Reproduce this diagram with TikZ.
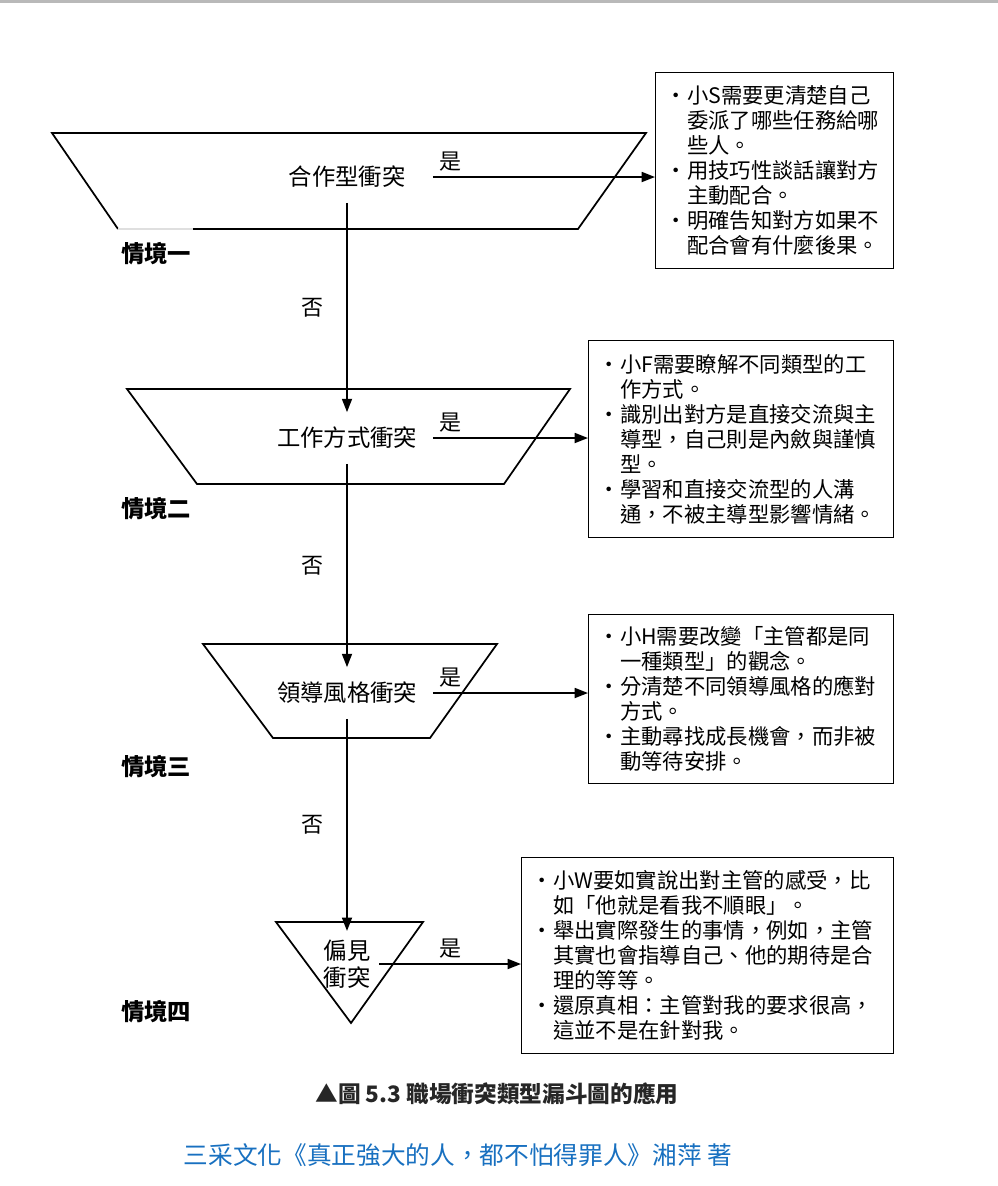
\documentclass[tikz,border=0pt]{standalone}
\usepackage{fontspec}
\setmainfont{Noto Sans CJK TC}
\usetikzlibrary{arrows.meta,positioning}
\definecolor{pubblue}{RGB}{24,112,192}
\newcommand{\bul}{\makebox[1em][l]{・}}
\newcommand{\cnt}{\hspace*{1em}}

\begin{document}
\begin{tikzpicture}[x=0.75pt,y=-0.75pt,line width=1.3pt,
  >={Triangle[length=10pt,width=7.5pt]},
  conflict/.style={minimum width=127.5pt,minimum height=37.5pt,inner sep=0pt,
    font=\fontsize{17.5}{20}\selectfont},
  scenario/.style={font=\fontsize{17.5}{20}\selectfont\bfseries},
  yeslabel/.style={font=\fontsize{16.5}{20}\selectfont,inner sep=4pt},
  nolabel/.style={midway,left=14pt,font=\fontsize{16.5}{20}\selectfont},
  advice/.style={draw,line width=1pt,anchor=north west,align=left,inner xsep=7.5pt,
    inner ysep=0pt,font=\fontsize{16}{18.75}\selectfont}]
  \useasboundingbox (0,0) rectangle (998,1186);
  \fill[gray!55] (0,0) rectangle (998,2.5);

  \draw (153,229) -- (578,229) -- (646,133) -- (52,133) -- (118,229);
  \draw[gray!25,line width=0.8pt] (118,229) -- (193,229);
  \draw (127,389) -- (570,389) -- (504,484) -- (197,484) -- cycle;
  \draw (203,644) -- (497,644) -- (430,738) -- (273,738) -- cycle;
  \draw (276,922) -- (423,922) -- (351,1023) -- cycle;

  \node[conflict] (c1) at (347,177) {合作型衝突};
  \node[conflict] (c2) at (347,438) {工作方式衝突};
  \node[conflict] (c3) at (347,693) {領導風格衝突};
  \node[align=center,inner sep=6pt,font=\fontsize{17.5}{20.25}\selectfont] (c4) at (347,964) {偏見\\衝突};

  \node[scenario] (s1) at (156,254) {情境一};
  \node[scenario] (s2) at (156,509) {情境二};
  \node[scenario] (s3) at (156,767) {情境三};
  \node[scenario] (s4) at (156,1012) {情境四};

  \node[advice,text width=163.5pt,minimum height=147pt] (b1) at (655,72)
    {\bul 小S需要更清楚自己\\ \cnt 委派了哪些任務給哪\\ \cnt 些人。\\
     \bul 用技巧性談話讓對方\\ \cnt 主動配合。\\
     \bul 明確告知對方如果不\\ \cnt 配合會有什麼後果。};
  \node[advice,text width=213.75pt,minimum height=147.75pt] (b2) at (588,340)
    {\bul 小F需要瞭解不同類型的工\\ \cnt 作方式。\\
     \bul 識別出對方是直接交流與主\\ \cnt 導型，自己則是內斂與謹慎\\ \cnt 型。\\
     \bul 學習和直接交流型的人溝\\ \cnt 通，不被主導型影響情緒。};
  \node[advice,text width=213.75pt,minimum height=126.75pt] (b3) at (588,614)
    {\bul 小H需要改變「主管都是同\\ \cnt 一種類型」的觀念。\\
     \bul 分清楚不同領導風格的應對\\ \cnt 方式。\\
     \bul 主動尋找成長機會，而非被\\ \cnt 動等待安排。};
  \node[advice,text width=264pt,minimum height=147pt] (b4) at (521,857)
    {\bul 小W要如實說出對主管的感受，比\\ \cnt 如「他就是看我不順眼」。\\
     \bul 舉出實際發生的事情，例如，主管\\ \cnt 其實也會指導自己、他的期待是合\\ \cnt 理的等等。\\
     \bul 還原真相：主管對我的要求很高，\\ \cnt 這並不是在針對我。};

  \draw[->] (c1) -- node[nolabel] {否} (c2);
  \draw[->] (c2) -- node[nolabel] {否} (c3);
  \draw[->] (c3) -- node[nolabel] {否} (c4);

  \draw[->] (c1) -- (c1 -| b1.west) node[yeslabel,pos=0,anchor=south west] {是};
  \draw[->] (c2) -- (c2 -| b2.west) node[yeslabel,pos=0,anchor=south west] {是};
  \draw[->] (c3) -- (c3 -| b3.west) node[yeslabel,pos=0,anchor=south west] {是};
  \draw[->] (c4) -- (c4 -| b4.west) node[yeslabel,midway,above] {是};

  \node[font=\fontsize{17}{20}\selectfont\bfseries,text=black!85] (cap) at (497,1094)
    {▲圖 5.3 職場衝突類型漏斗圖的應用};
  \node[font=\fontsize{18.5}{22}\selectfont,text=pubblue] (src) at (458,1155)
    {三采文化《真正強大的人，都不怕得罪人》湘萍 著};
\end{tikzpicture}
\end{document}
